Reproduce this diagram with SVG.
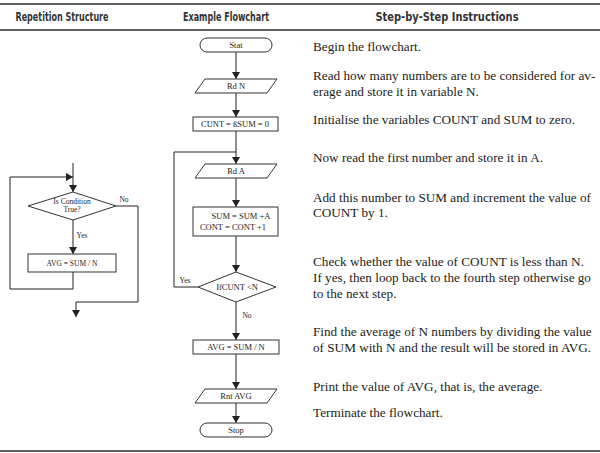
<svg xmlns="http://www.w3.org/2000/svg" width="600" height="453" viewBox="0 0 600 453">
<defs>
<marker id="ah" markerWidth="7" markerHeight="8" refX="7" refY="4" orient="auto" markerUnits="userSpaceOnUse"><path d="M0,0 L7,4 L0,8 z" fill="#222"/></marker>
<style>
.rule{stroke:#5f5f5f;stroke-width:2;fill:none}
.hd{font-family:"DejaVu Sans Condensed","DejaVu Sans",sans-serif;font-stretch:condensed;font-weight:bold;font-size:12px;fill:#333;text-anchor:middle}
.tx{font-family:"Liberation Serif",serif;font-size:13.2px;fill:#222}
.sh{fill:#fff;stroke:#333;stroke-width:1}
.lb{font-family:"Liberation Serif",serif;font-size:8.5px;fill:#222;text-anchor:middle}
.sm{font-family:"Liberation Serif",serif;font-size:7.5px;fill:#222;text-anchor:middle}
.cn{fill:none;stroke:#222;stroke-width:1}
.ar{marker-end:url(#ah)}
</style>
</defs>
<rect width="600" height="453" fill="#fff"/>
<g id="table">
<line class="rule" x1="0" y1="4" x2="600" y2="4"/>
<line class="rule" x1="0" y1="30" x2="600" y2="30"/>
<line class="rule" x1="0" y1="451" x2="600" y2="451"/>
<text class="hd" x="62" y="21" textLength="93" lengthAdjust="spacingAndGlyphs">Repetition Structure</text>
<text class="hd" x="226" y="21" textLength="86" lengthAdjust="spacingAndGlyphs">Example Flowchart</text>
<text class="hd" x="447" y="21" textLength="143" lengthAdjust="spacingAndGlyphs">Step-by-Step Instructions</text>
</g>
<g id="connectors">
<path class="cn ar" d="M73,163 V192"/>
<path class="cn ar" d="M73,220 V254"/>
<path class="cn ar" d="M73,272 V289 H10 V177 H73"/>
<path class="cn ar" d="M116,206 H138 V302 H76 V317"/>
<path class="cn ar" d="M236,52 V79"/>
<path class="cn ar" d="M236,93 V117"/>
<path class="cn ar" d="M236,131 V164"/>
<path class="cn" d="M198,287 H174 V152 H236"/>
<path class="cn ar" d="M236,178 V207"/>
<path class="cn ar" d="M236,236 V272"/>
<path class="cn ar" d="M236,302 V340"/>
<path class="cn ar" d="M236,354 V389"/>
<path class="cn ar" d="M236,403 V423"/>
<text class="sm" x="124" y="202">No</text>
<text class="sm" x="82" y="238">Yes</text>
<text class="sm" x="185" y="283">Yes</text>
<text class="sm" x="247" y="318">No</text>
</g>
<g id="l-diamond">
<polygon class="sh" points="73,192 116,206 73,220 28,206"/>
<text class="sm" x="72" y="204">Is Condition</text>
<text class="sm" x="72" y="212">True?</text>
</g>
<g id="l-avg">
<rect class="sh" x="28" y="254" width="88" height="18"/>
<text class="sm" x="72" y="266">AVG = SUM / N</text>
</g>
<g id="start">
<rect class="sh" x="200" y="38" width="72" height="14" rx="7"/>
<text class="lb" x="236" y="48">Stat</text>
</g>
<g id="readN">
<polygon class="sh" points="205,79 277,79 267,93 195,93"/>
<text class="lb" x="236" y="89">Rd N</text>
</g>
<g id="init">
<rect class="sh" x="193" y="117" width="85" height="14"/>
<text class="lb" x="235" y="127">CUNT = ßSUM = 0</text>
</g>
<g id="readA">
<polygon class="sh" points="205,164 277,164 267,178 195,178"/>
<text class="lb" x="236" y="174">Rd A</text>
</g>
<g id="sum">
<rect class="sh" x="193" y="207" width="85" height="29"/>
<text class="lb" x="241" y="219">SUM = SUM +A</text>
<text class="lb" x="233" y="230">CONT  = CONT +1</text>
</g>
<g id="check">
<polygon class="sh" points="236,272 276,287 236,302 198,287"/>
<text class="lb" x="237" y="290">IfCUNT &lt;N</text>
</g>
<g id="avg">
<rect class="sh" x="193" y="340" width="86" height="14"/>
<text class="lb" x="236" y="350">AVG = SUM / N</text>
</g>
<g id="print">
<polygon class="sh" points="205,389 277,389 267,403 195,403"/>
<text class="lb" x="236" y="399">Rnt AVG</text>
</g>
<g id="stop">
<rect class="sh" x="200" y="423" width="72" height="14" rx="7"/>
<text class="lb" x="236" y="433">Stop</text>
</g>
<g id="steps">
<text class="tx" x="313" y="51">Begin the flowchart.</text>
<text class="tx" x="313" y="80">Read how many numbers are to be considered for av-</text>
<text class="tx" x="313" y="96">erage and store it in variable N.</text>
<text class="tx" x="313" y="124">Initialise the variables COUNT and SUM to zero.</text>
<text class="tx" x="313" y="162">Now read the first number and store it in A.</text>
<text class="tx" x="313" y="202">Add this number to SUM and increment the value of</text>
<text class="tx" x="313" y="217">COUNT by 1.</text>
<text class="tx" x="313" y="266">Check whether the value of COUNT is less than N.</text>
<text class="tx" x="313" y="282">If yes, then loop back to the fourth step otherwise go</text>
<text class="tx" x="313" y="298">to the next step.</text>
<text class="tx" x="313" y="336">Find the average of N numbers by dividing the value</text>
<text class="tx" x="313" y="352">of SUM with N and the result will be stored in AVG.</text>
<text class="tx" x="313" y="391">Print the value of AVG, that is, the average.</text>
<text class="tx" x="313" y="417">Terminate the flowchart.</text>
</g>
</svg>
